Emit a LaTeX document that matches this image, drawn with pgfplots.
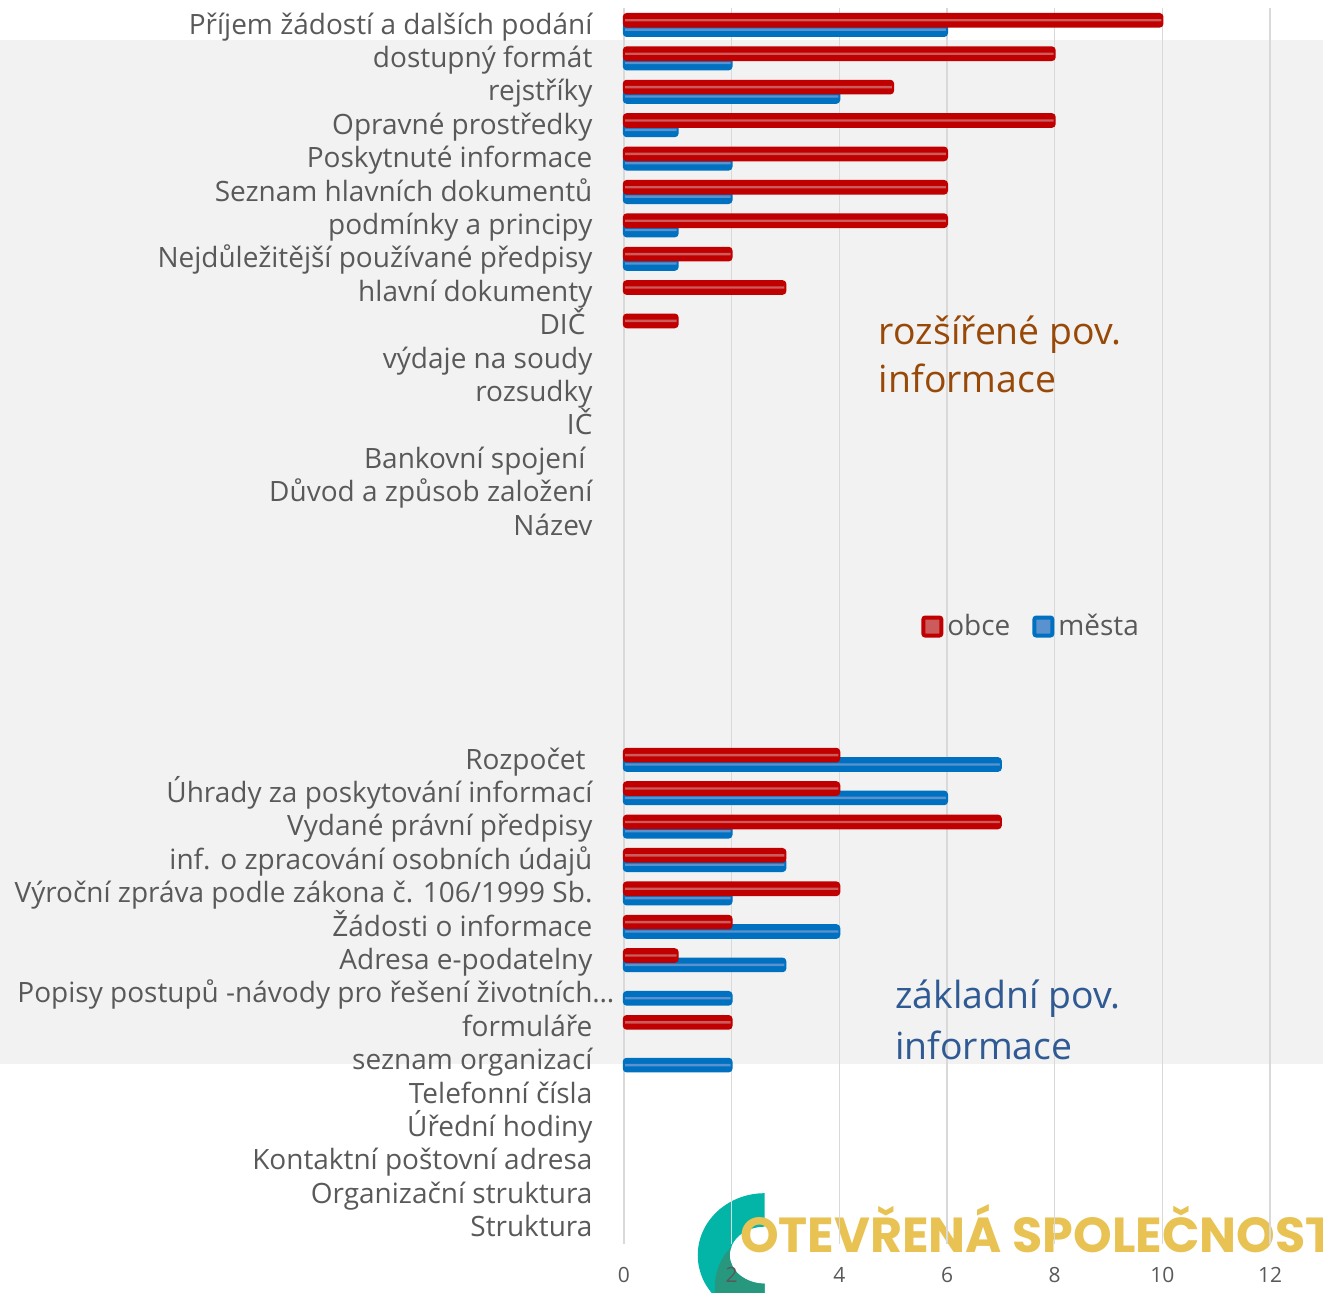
\documentclass[border=0pt]{standalone}
\usepackage{pgfplots}
\pgfplotsset{compat=1.18}
\usepackage{fontspec}
\setmainfont{Open Sans}
\newfontfamily\logofont{Poppins}
\definecolor{cRed}{HTML}{C00000}
\definecolor{cRedL}{HTML}{CC5B5B}
\definecolor{cBlue}{HTML}{0070C0}
\definecolor{cBlueL}{HTML}{5A92CF}
\definecolor{cGrid}{HTML}{D9D9D9}
\definecolor{cBand}{HTML}{F2F2F2}
\definecolor{cText}{HTML}{595959}
\definecolor{cBrown}{HTML}{984807}
\definecolor{cNavy}{HTML}{2F5A93}
\definecolor{cTeal}{HTML}{02B5A7}
\definecolor{cTealD}{HTML}{27987E}
\definecolor{cGold}{HTML}{E8C253}
\pgfplotstableread{
x y
6 0
2 1
4 2
1 3
2 4
2 5
1 6
1 7
7 22
6 23
2 24
3 25
2 26
4 27
3 28
2 29
2 31
}\mesta
\pgfplotstableread{
x y
10 0
8 1
5 2
8 3
6 4
6 5
6 6
2 7
3 8
1 9
4 22
4 23
7 24
3 25
4 26
2 27
1 28
2 30
}\obce
\begin{document}
\begin{tikzpicture}
\begin{axis}[
  set layers,
  scale only axis, width=323.4pt, height=618.3pt,
  xmin=0, xmax=12, ymin=-0.5, ymax=36.5, y dir=reverse,
  xbar, bar width=0.38,
  xtick={0,2,...,12}, ytick={0,...,36},
  yticklabels={
    {Příjem žádostí a dalších podání},
    {dostupný formát},
    {rejstříky},
    {Opravné prostředky},
    {Poskytnuté informace},
    {Seznam hlavních dokumentů},
    {podmínky a principy},
    {Nejdůležitější používané předpisy},
    {hlavní dokumenty},
    {DIČ\kern3.5pt},
    {výdaje na soudy},
    {rozsudky},
    {IČ},
    {Bankovní spojení\kern3.5pt},
    {Důvod a způsob založení},
    {Název},
    {},{},{},{},{},{},
    {Rozpočet\kern3.5pt},
    {Úhrady za poskytování informací},
    {Vydané právní předpisy},
    {inf. o zpracování osobních údajů},
    {Výroční zpráva podle zákona č. 106/1999 Sb.},
    {Žádosti o informace},
    {Adresa e-podatelny},
    {Popisy postupů -návody pro řešení životních\rlap{…}},
    {formuláře},
    {seznam organizací},
    {Telefonní čísla},
    {Úřední hodiny},
    {Kontaktní poštovní adresa},
    {Organizační struktura},
    {Struktura}},
  xmajorgrids, major grid style={draw=cGrid, line width=0.75pt},
  axis line style={draw=none}, major tick length=0pt, tick style={draw=none},
  yticklabel style={font=\fontsize{14}{16}\selectfont, text=cText, anchor=base east, inner sep=0pt, yshift=-4.6pt},
  yticklabel shift=15.5pt,
  xticklabel style={font=\fontsize{10.5}{12}\selectfont, text=cText, anchor=north, inner sep=0pt},
  xticklabel shift=11.5pt,
  /pgf/number format/assume math mode=true,
  clip=false,
  legend style={at={(axis cs:7.58,18.01)}, anchor=center, draw=none, fill=none,
    legend columns=2, font=\fontsize{14}{16}\selectfont, text=cText,
    /tikz/every even column/.append style={column sep=9pt}},
]
\begin{pgfonlayer}{axis background}
\fill[cBand] (axis cs:-11.7,0.449) rectangle (axis cs:13.1,31.12);
\begin{scope}[shift={(axis cs:2.616,36.33)}]
  \path[fill=cTeal] (0,31pt) arc[start angle=90,end angle=270,x radius=33.5pt,y radius=31pt]
     -- (0,-14.25pt) arc[start angle=270,end angle=90,x radius=17.5pt,y radius=14.25pt] -- cycle;
  \begin{scope}
    \clip (0,31pt) arc[start angle=90,end angle=270,x radius=33.5pt,y radius=31pt]
     -- (0,-14.25pt) arc[start angle=270,end angle=90,x radius=17.5pt,y radius=14.25pt] -- cycle;
    \fill[cTealD] (0,-16pt) ellipse[x radius=25pt, y radius=27pt];
  \end{scope}
  \node[anchor=base west, inner sep=0pt, text=cGold, font=\logofont\bfseries\fontsize{24.6}{26}\selectfont]
     at (-12.5pt,-7pt) {OTEVŘENÁ SPOLEČNOST};
\end{scope}
\end{pgfonlayer}
% města
\addplot[forget plot, draw=none, fill=cBlue, rounded corners=1.5pt, bar shift=0.14] table[x=x,y=y] {\mesta};
\addplot[forget plot, draw=none, fill=cBlueL, bar width=0.07, bar shift=0.14] table[x=x,y=y] {\mesta};
\addplot[forget plot, draw=cBlue, fill=none, line width=1pt, rounded corners=1.5pt, bar shift=0.14] table[x=x,y=y] {\mesta};
% obce
\addplot[forget plot, draw=none, fill=cRed, rounded corners=1.5pt, bar shift=-0.14] table[x=x,y=y] {\obce};
\addplot[forget plot, draw=none, fill=cRedL, bar width=0.07, bar shift=-0.14] table[x=x,y=y] {\obce};
\addplot[forget plot, draw=cRed, fill=none, line width=1pt, rounded corners=1.5pt, bar shift=-0.14] table[x=x,y=y] {\obce};
\addlegendimage{legend image code/.code={\draw[line width=2pt, draw=cRed, fill=cRedL, rounded corners=1pt] (0pt,-4.5pt) rectangle (9pt,4.5pt);}}
\addlegendentry{obce}
\addlegendimage{legend image code/.code={\draw[line width=2pt, draw=cBlue, fill=cBlueL, rounded corners=1pt] (0pt,-4.5pt) rectangle (9pt,4.5pt);}}
\addlegendentry{města}
\node[anchor=base west, inner sep=0pt, font=\fontsize{18.7}{20}\selectfont, text=cBrown] at (axis cs:4.73,9.575) {rozšířené pov.};
\node[anchor=base west, inner sep=0pt, font=\fontsize{18.7}{20}\selectfont, text=cBrown] at (axis cs:4.73,11.01) {informace};
\node[anchor=base west, inner sep=0pt, font=\fontsize{18.7}{20}\selectfont, text=cNavy] at (axis cs:5.03,29.44) {základní pov.};
\node[anchor=base west, inner sep=0pt, font=\fontsize{18.7}{20}\selectfont, text=cNavy] at (axis cs:5.03,30.97) {informace};
\coordinate (BBa) at (axis cs:-11.58,-0.748);
\coordinate (BBb) at (axis cs:12.98,37.94);
\end{axis}
\pgfresetboundingbox
\path[use as bounding box] (BBa) rectangle (BBb);
\end{tikzpicture}
\end{document}
